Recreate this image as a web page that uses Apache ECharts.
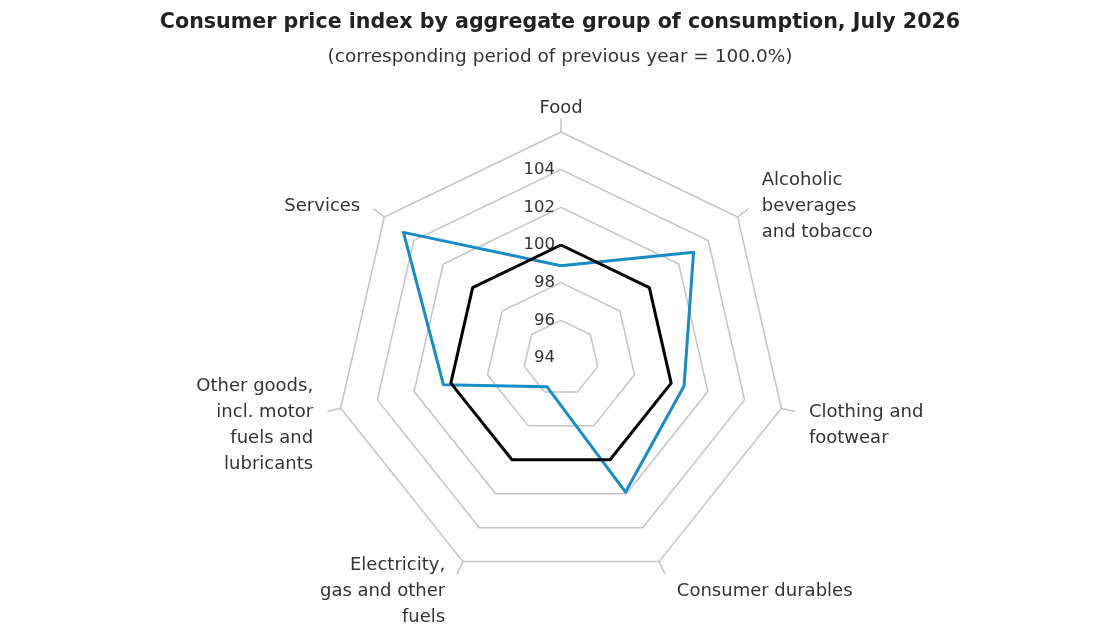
<!DOCTYPE html>
<html style="height: 100%">
   <head>
       <meta charset="utf-8">
   </head>
   <body style="height: 100%; margin: 0; background: #fff">
       <div id="container" style="width: 1120px; height: 630px"></div>
       <script type="text/javascript" src="https://cdn.jsdelivr.net/npm/echarts@6/dist/echarts.min.js"></script>
       <script type="text/javascript">
// groups, clockwise from the top
var categories = ['Food', 'Alcoholic\nbeverages\nand tobacco', 'Clothing and\nfootwear', 'Consumer durables',
    'Electricity,\ngas and other\nfuels', 'Other goods,\nincl. motor\nfuels and\nlubricants', 'Services'];
var cpiValues = [98.9, 103.0, 100.7, 101.9, 95.7, 100.4, 104.7];
var baseValues = [100, 100, 100, 100, 100, 100, 100];
var axisMin = 94;
var axisMax = 106;
var axisSplits = 6;
// names that sit a line lower than echarts would put them
var loweredLabels = ['Clothing and\nfootwear', 'Consumer durables',
    'Electricity,\ngas and other\nfuels', 'Other goods,\nincl. motor\nfuels and\nlubricants'];

// echarts lays radar axes out counter-clockwise, so flip everything after the first one
function toRadarOrder(arr) {
    return [arr[0]].concat(arr.slice(1).reverse());
}

var dom = document.getElementById("container");
var myChart = echarts.init(dom);
var font = 'DejaVu Sans';
var gridColor = '#c4c4c4';

var option = {
    animation: false,
    backgroundColor: '#fff',
    title: {
        text: 'Consumer price index by aggregate group of consumption, July 2026',
        subtext: '(corresponding period of previous year = 100.0%)',
        left: 'center',
        top: 6,
        itemGap: 11,
        textStyle: {fontFamily: font, fontWeight: 'bold', fontSize: 20.6, lineHeight: 24, color: '#222'},
        subtextStyle: {fontFamily: font, fontSize: 18.5, lineHeight: 22, color: '#333'}
    },
    radar: [{
        // main grid with the rings and the names
        z: 1,
        center: [561, 358],
        radius: 226,
        startAngle: 90,
        shape: 'polygon',
        splitNumber: axisSplits,
        nameGap: 18,
        indicator: toRadarOrder(categories).map(function (name, i) {
            var ind = {name: name, min: axisMin, max: axisMax};
            if (i === 0) ind.axisLabel = {show: true};
            return ind;
        }),
        axisName: {
            color: '#333',
            fontFamily: font,
            fontSize: 18,
            lineHeight: 26,
            padding: [1, 10, -7, 10],
            formatter: function (name) {
                return loweredLabels.indexOf(name) >= 0 ? '\n' + name : name;
            }
        },
        splitLine: {lineStyle: {color: gridColor, width: 1.5}},
        splitArea: {show: true, areaStyle: {color: ['#fff'], opacity: 1}},
        axisLine: {show: false},
        axisTick: {show: false},
        axisLabel: {
            show: false,
            color: '#333',
            fontFamily: font,
            fontSize: 16.5,
            margin: 6,
            formatter: function (v) { return v === axisMax ? '' : v; }
        }
    }, {
        // only the short spokes poking out of the outer ring
        z: 0,
        center: [561, 358],
        radius: 239,
        startAngle: 90,
        shape: 'polygon',
        splitNumber: axisSplits,
        indicator: toRadarOrder(categories).map(function (name) {
            return {name: name, min: axisMin, max: axisMax};
        }),
        axisName: {show: false},
        splitLine: {show: false},
        splitArea: {show: false},
        axisLine: {show: true, lineStyle: {color: gridColor, width: 1.5}},
        axisTick: {show: false},
        axisLabel: {show: false}
    }],
    series: [{
        type: 'radar',
        radarIndex: 0,
        symbol: 'none',
        data: [{
            name: 'CPI',
            value: toRadarOrder(cpiValues),
            lineStyle: {color: '#168cc8', width: 3}
        }]
    }, {
        type: 'radar',
        radarIndex: 0,
        symbol: 'none',
        data: [{
            name: 'Previous year',
            value: toRadarOrder(baseValues),
            lineStyle: {color: '#000', width: 3}
        }]
    }]
};

myChart.setOption(option);
       </script>
   </body>
</html>
